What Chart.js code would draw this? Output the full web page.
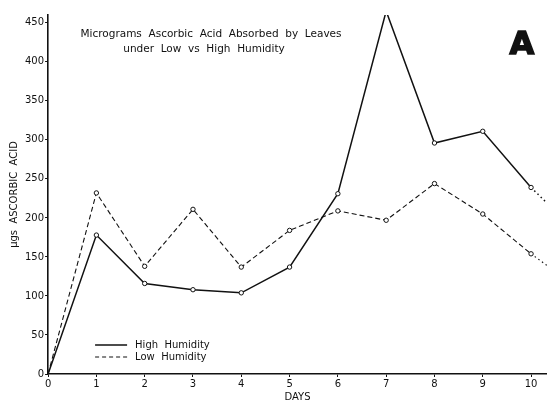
<!DOCTYPE html>
<html>
<head>
<meta charset="utf-8">
<script src="https://cdn.jsdelivr.net/npm/chart.js@4"></script>
<style>
  html, body { margin: 0; padding: 0; background: #fff; }
  #wrap { width: 547px; height: 404px; position: relative; }
</style>
</head>
<body>
<div id="wrap"><canvas id="ChartAscorbic_Canvasobj"></canvas></div>
<script>
// days 0..10, plus the dotted run-off past day 10 to the frame edge
var days = [0, 1, 2, 3, 4, 5, 6, 7, 8, 9, 10, 10.33];
var highHumidity = [0, 178, 116, 108, 104, 137, 231, 465, 296, 311, 239, 219];
var lowHumidity = [0, 232, 138, 211, 137, 184, 209, 197, 244, 205, 154, 139];
var yTicks = [0, 50, 100, 150, 200, 250, 300, 350, 400, 450];
var xTicks = [0, 1, 2, 3, 4, 5, 6, 7, 8, 9, 10];
var titleLines = ['Micrograms  Ascorbic  Acid  Absorbed  by  Leaves', 'under  Low  vs  High  Humidity'];
var legendLabels = ['High  Humidity', 'Low  Humidity'];

var FONT = '"DejaVu Sans", sans-serif';

function toPoints(vals) {
  return vals.map(function (v, i) { return { x: days[i], y: v }; });
}

// dotted run-off after day 10
function runOff(ctx, normal) {
  return ctx.p0.parsed.x >= 10 ? [1.5, 3] : normal;
}

const textPlugin = {
  id: 'textPlugin',
  afterDraw: function (chart) {
    var c = chart.ctx, a = chart.chartArea;
    c.save();
    c.fillStyle = '#111';
    c.textAlign = 'center';
    c.textBaseline = 'middle';
    c.font = '10.5px ' + FONT;
    c.fillText(titleLines[0], 211, 34);
    c.fillText(titleLines[1], 204, 49);

    c.font = 'bold 32px "DejaVu Sans", sans-serif';
    c.lineWidth = 1.5;
    c.strokeStyle = '#111';
    c.fillText('A', 522, 46);
    c.strokeText('A', 522, 46);

    // legend
    c.font = '10px ' + FONT;
    c.textAlign = 'left';
    c.lineWidth = 1.5;
    c.beginPath();
    c.moveTo(a.left + 47, 345);
    c.lineTo(a.left + 79, 345);
    c.stroke();
    c.lineWidth = 1.1;
    c.setLineDash([4, 3]);
    c.beginPath();
    c.moveTo(a.left + 47, 357);
    c.lineTo(a.left + 79, 357);
    c.stroke();
    c.setLineDash([]);
    c.fillText(legendLabels[0], a.left + 87, 345);
    c.fillText(legendLabels[1], a.left + 87, 357);
    c.restore();
  }
};

const config_ascorbic = {
  type: 'line',
  data: {
    datasets: [
      {
        label: legendLabels[0],
        data: toPoints(highHumidity),
        borderColor: '#111',
        borderWidth: 1.5,
        backgroundColor: '#fff',
        fill: false,
        tension: 0,
        pointRadius: function (ctx) { return ctx.dataIndex > 0 && ctx.dataIndex < 11 ? 2.2 : 0; },
        pointBorderColor: '#111',
        pointBackgroundColor: '#fff',
        pointBorderWidth: 1,
        segment: { borderDash: function (ctx) { return runOff(ctx, []); } }
      },
      {
        label: legendLabels[1],
        data: toPoints(lowHumidity),
        borderColor: '#111',
        borderWidth: 1.1,
        borderDash: [5, 3],
        backgroundColor: '#fff',
        fill: false,
        tension: 0,
        pointRadius: function (ctx) { return ctx.dataIndex > 0 && ctx.dataIndex < 11 ? 2.2 : 0; },
        pointBorderColor: '#111',
        pointBackgroundColor: '#fff',
        pointBorderWidth: 1,
        segment: { borderDash: function (ctx) { return runOff(ctx, [5, 3]); } }
      }
    ]
  },
  options: {
    responsive: true,
    maintainAspectRatio: false,
    animation: false,
    layout: { padding: { top: 15, right: 0, left: 8, bottom: 0 } },
    plugins: {
      legend: { display: false },
      tooltip: { enabled: false }
    },
    scales: {
      x: {
        type: 'linear',
        min: 0,
        max: 10.33,
        afterBuildTicks: function (axis) { axis.ticks = xTicks.map(function (v) { return { value: v }; }); },
        grid: { drawOnChartArea: false, drawTicks: true, tickLength: 3, color: '#111' },
        border: { color: '#111', width: 1.6 },
        ticks: { color: '#111', font: { family: FONT, size: 10 }, padding: 1, maxRotation: 0 },
        title: {
          display: true,
          text: 'DAYS',
          color: '#111',
          font: { family: FONT, size: 10 },
          padding: { top: 0, bottom: 1 }
        }
      },
      y: {
        min: 0,
        max: 460,
        afterBuildTicks: function (axis) { axis.ticks = yTicks.map(function (v) { return { value: v }; }); },
        grid: { drawOnChartArea: false, drawTicks: true, tickLength: 3, color: '#111' },
        border: { color: '#111', width: 1.6 },
        ticks: { color: '#111', font: { family: FONT, size: 10 }, padding: 1 },
        title: {
          display: true,
          text: 'μgs  ASCORBIC  ACID',
          color: '#111',
          font: { family: FONT, size: 10 },
          padding: { top: 0, bottom: 4 }
        }
      }
    }
  },
  plugins: [textPlugin]
};

const ChartAscorbic = new Chart(
  document.getElementById('ChartAscorbic_Canvasobj'),
  config_ascorbic
);
</script>
</body>
</html>
